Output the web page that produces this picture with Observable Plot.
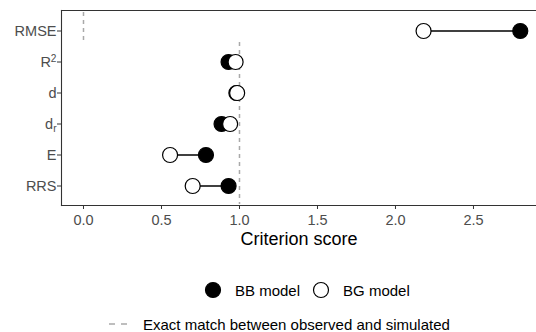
<!DOCTYPE html>
<html><head><meta charset="utf-8">
<script src="https://cdn.jsdelivr.net/npm/d3@7"></script>
<script src="https://cdn.jsdelivr.net/npm/@observablehq/plot@0.6"></script>
<style>
body{margin:0;background:#fff;font-family:"Liberation Sans",Arial,Helvetica,sans-serif;overflow:hidden}
#wrap{position:relative;width:536px;height:332px;background:#fff}
#chart{position:absolute;left:0;top:0}
.leg{position:absolute;display:flex;align-items:center;font-size:15px;color:#000;white-space:nowrap;line-height:1}
</style></head><body>
<div id="wrap"><div id="chart"></div><div id="leg1" class="leg"></div><div id="leg2" class="leg"></div></div>
<script>
const metrics = ["RMSE", "R2", "d", "dr", "E", "RRS"];
const metricBase = ["RMSE", "R", "d", "d", "E", "RRS"];
const metricSup = ["", "2", "", "", "", ""];
const metricSub = ["", "", "", "r", "", ""];
const models = ["BB model", "BG model"];
const bbValues = [2.80, 0.93, 0.98, 0.885, 0.785, 0.93];
const bgValues = [2.18, 0.975, 0.985, 0.94, 0.555, 0.70];
const targetValues = [0, 1, 1, 1, 1, 1];
const xTicks = [0, 0.5, 1, 1.5, 2, 2.5];
const xLabel = "Criterion score";
const refLabel = "Exact match between observed and simulated";

const modelFill = {"BB model": "#000000", "BG model": "#ffffff"};

const rows = [];
models.forEach((m, k) => {
  const vals = k === 0 ? bbValues : bgValues;
  metrics.forEach((met, i) => rows.push({metric: met, model: m, value: vals[i]}));
});
const segs = metrics.map((met, i) => ({metric: met, a: bbValues[i], b: bgValues[i]}));
const groups = [];
metrics.forEach((met, i) => {
  const t = targetValues[i];
  const g = groups[groups.length - 1];
  if (g && g.x === t) g.y2 = met; else groups.push({x: t, y1: met, y2: met});
});

const plot = Plot.plot({
  width: 536, height: 255,
  marginTop: 10, marginBottom: 50, marginLeft: 61, marginRight: 0,
  style: {fontFamily: '"Liberation Sans", Arial, Helvetica, sans-serif', fontSize: "14.5px", background: "#fff", overflow: "visible"},
  x: {domain: [-0.141, 2.904]},
  y: {type: "band", domain: metrics, paddingInner: 0, paddingOuter: 0.1},
  color: {domain: models, range: models.map(m => modelFill[m])},
  marks: [
    Plot.ruleX(groups.slice(0, 1), {x: "x", y1: "y1", y2: "y2", stroke: "#a9a9a9", strokeWidth: 1.5, strokeDasharray: "4,4", insetTop: -3, insetBottom: 2}),
    Plot.ruleX(groups.slice(1), {x: "x", y1: "y1", y2: "y2", stroke: "#a9a9a9", strokeWidth: 1.5, strokeDasharray: "4,4", insetTop: -4, insetBottom: -3}),
    Plot.ruleY(segs, {y: "metric", x1: "a", x2: "b", stroke: "#000", strokeWidth: 1.4}),
    Plot.dot(rows, {x: "value", y: "metric", fill: "model", stroke: "#000", strokeWidth: 1.2, r: 7.5}),
    Plot.frame({anchor: "top", stroke: "#333", strokeWidth: 1.1}),
    Plot.frame({anchor: "left", stroke: "#333", strokeWidth: 1.1}),
    Plot.frame({anchor: "bottom", stroke: "#333", strokeWidth: 1.1}),
    Plot.axisX({ticks: xTicks, tickFormat: d3.format(".1f"), tickSize: 4, tickPadding: 5, label: null, stroke: "#333", fill: "#4d4d4d", fontSize: 14.5}),
    Plot.axisX({ticks: [], tickSize: 0, label: xLabel, labelArrow: "none", labelAnchor: "center", labelOffset: 39, fill: "#000", fontSize: 18}),
    Plot.axisY({tickSize: 4, tickPadding: 1, label: null, stroke: "#333", fill: "#4d4d4d", fontSize: 14.5})
  ]
});
document.getElementById("chart").appendChild(plot);

const svg = d3.select(plot);
svg.selectAll('g[aria-label="x-axis label"] text').each(function() {
  const el = d3.select(this);
  el.text(el.text().replace(/\s*[→←↑↓]\s*/g, "").trim());
});
svg.selectAll('g[aria-label="y-axis tick label"] text').each(function() {
  const el = d3.select(this);
  const i = metrics.indexOf(el.text());
  if (i < 0) return;
  el.text(metricBase[i]);
  if (metricSup[i]) el.append("tspan").attr("dy", "-0.45em").attr("font-size", "0.7em").text(metricSup[i]);
  if (metricSub[i]) el.append("tspan").attr("dy", "0.3em").attr("font-size", "0.7em").text(metricSub[i]);
});

const leg1 = d3.select("#leg1").style("left", "204px").style("top", "281px");
models.forEach((m, k) => {
  const s = leg1.append("svg").attr("width", 18).attr("height", 18).style("margin-left", k ? "12px" : "0");
  s.append("circle").attr("cx", 9).attr("cy", 9).attr("r", 7.5).attr("fill", modelFill[m]).attr("stroke", "#000").attr("stroke-width", 1.2);
  leg1.append("span").style("margin-left", "13px").text(m);
});
const leg2 = d3.select("#leg2").style("left", "108px").style("top", "316px");
const s2 = leg2.append("svg").attr("width", 22).attr("height", 16);
s2.append("line").attr("x1", 1).attr("x2", 21).attr("y1", 8).attr("y2", 8).attr("stroke", "#a9a9a9").attr("stroke-width", 1.5).attr("stroke-dasharray", "6,6");
leg2.append("span").style("margin-left", "13px").text(refLabel);
</script></body></html>
